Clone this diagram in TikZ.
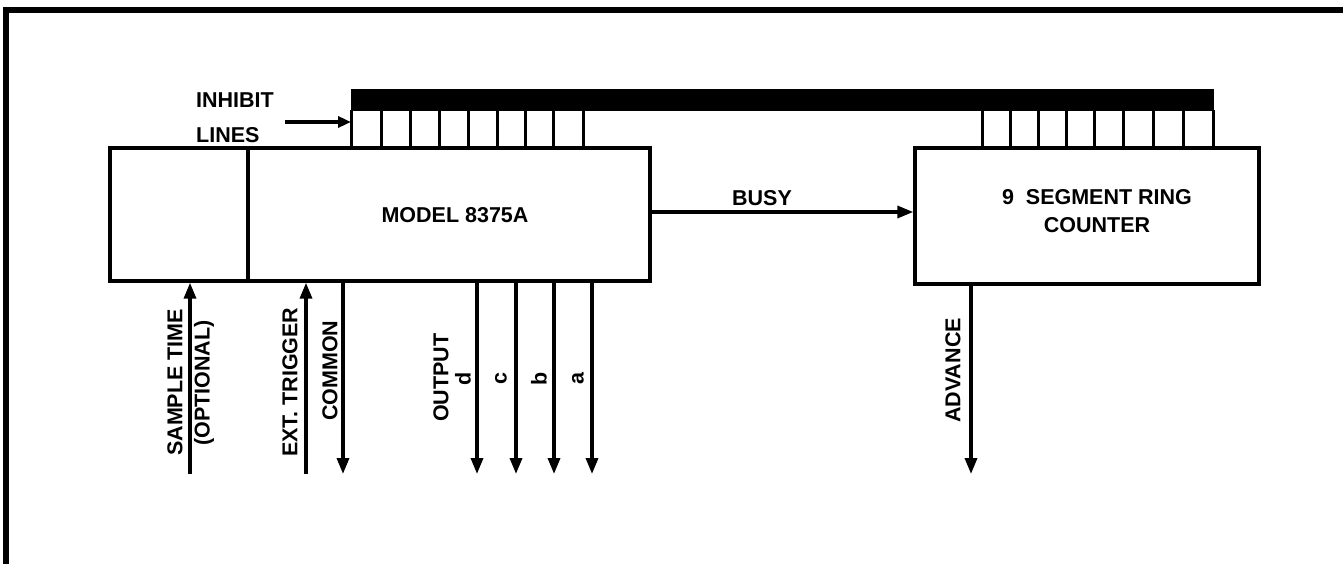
\documentclass[tikz,border=0pt]{standalone}
\usepackage{fontspec}
\setmainfont{Liberation Sans}
\usetikzlibrary{arrows.meta}
\begin{document}
\begin{tikzpicture}[x=1pt,y=-1pt,
  lw/.style={line width=3.4pt},
  blk/.style={draw,lw,inner sep=0pt,fill=white},
  lbl/.style={font=\bfseries\fontsize{21.5}{28}\selectfont,inner sep=0pt},
  vlbl/.style={lbl,rotate=90,anchor=west},
  arr/.style={lw,-{Triangle[width=12pt,length=16pt]}},
  ihl/.style={line width=3pt}
]
\useasboundingbox (0,0) rectangle (1343,564);
% frame
\coordinate (fTL) at (6,10);
\coordinate (fTR) at (1343,10);
\coordinate (fBL) at (6,564);
\draw[line width=5.5pt] (fBL) -- (fTL) -- (fTR);

% boxes
\node[blk,minimum width=540pt,minimum height=133pt] (model) at (380,214.5) {};
\coordinate (divT) at (248,148);
\coordinate (divB) at (248,281);
\draw[lw] (divT) -- (divB);
\node[lbl] (modeltxt) at (455,215) {MODEL 8375A};

\node[blk,minimum width=344pt,minimum height=136pt] (ring) at (1087,216) {};
\node[lbl,align=center] (ringtxt) at (1097,211) {9\ \ SEGMENT RING\\COUNTER};

% inhibit bar
\node[fill=black,draw=black,line width=1pt,inner sep=0pt,minimum width=862pt,minimum height=21pt] (bar) at (782,100.5) {};
\foreach \x in {351,381,410,439,468,497,525,553,583,982,1010,1038,1066,1094,1123,1153,1183,1213}{
  \draw[ihl] (\x,110) -- (\x,148);
}

% inhibit lines label and arrow
\node[lbl,anchor=west] (inh) at (196,100) {INHIBIT};
\node[lbl,anchor=west] (lines) at (196,135) {LINES};
\coordinate (inhS) at (285,122);
\coordinate (inhE) at (351,122);
\draw[lw,-{Triangle[width=11pt,length=13pt]}] (inhS) -- (inhE);

% busy
\draw[arr] (model.east |- 0,212) -- (ring.west |- 0,212);
\node[lbl] (busy) at (762,198) {BUSY};

% input arrows (upwards)
\coordinate (stB) at (190,474);
\coordinate (etB) at (306,474);
\draw[arr] (stB) -- (model.south -| stB);
\draw[arr] (etB) -- (model.south -| etB);
\node[vlbl] (st1) at (175,456) {SAMPLE TIME};
\node[vlbl] (st2) at (204,446) {(OPTIONAL)};
\node[vlbl] (et) at (290,457) {EXT. TRIGGER};

% output arrows (downwards)
\coordinate (comE) at (343,474);
\coordinate (dE) at (477,474);
\coordinate (cE) at (516,474);
\coordinate (bE) at (554,474);
\coordinate (aE) at (592,474);
\foreach \p in {comE,dE,cE,bE,aE}{
  \draw[arr] (model.south -| \p) -- (\p);
}
\node[vlbl] (com) at (330,421) {COMMON};
\node[vlbl] (out) at (441,422) {OUTPUT};
\node[lbl,rotate=90] (ld) at (463,379) {d};
\node[lbl,rotate=90] (lc) at (501,379) {c};
\node[lbl,rotate=90] (lb) at (539,379) {b};
\node[lbl,rotate=90] (la) at (578,379) {a};

% advance
\coordinate (advE) at (971,474);
\draw[arr] (ring.south -| advE) -- (advE);
\node[vlbl] (adv) at (953,423) {ADVANCE};
\end{tikzpicture}
\end{document}
